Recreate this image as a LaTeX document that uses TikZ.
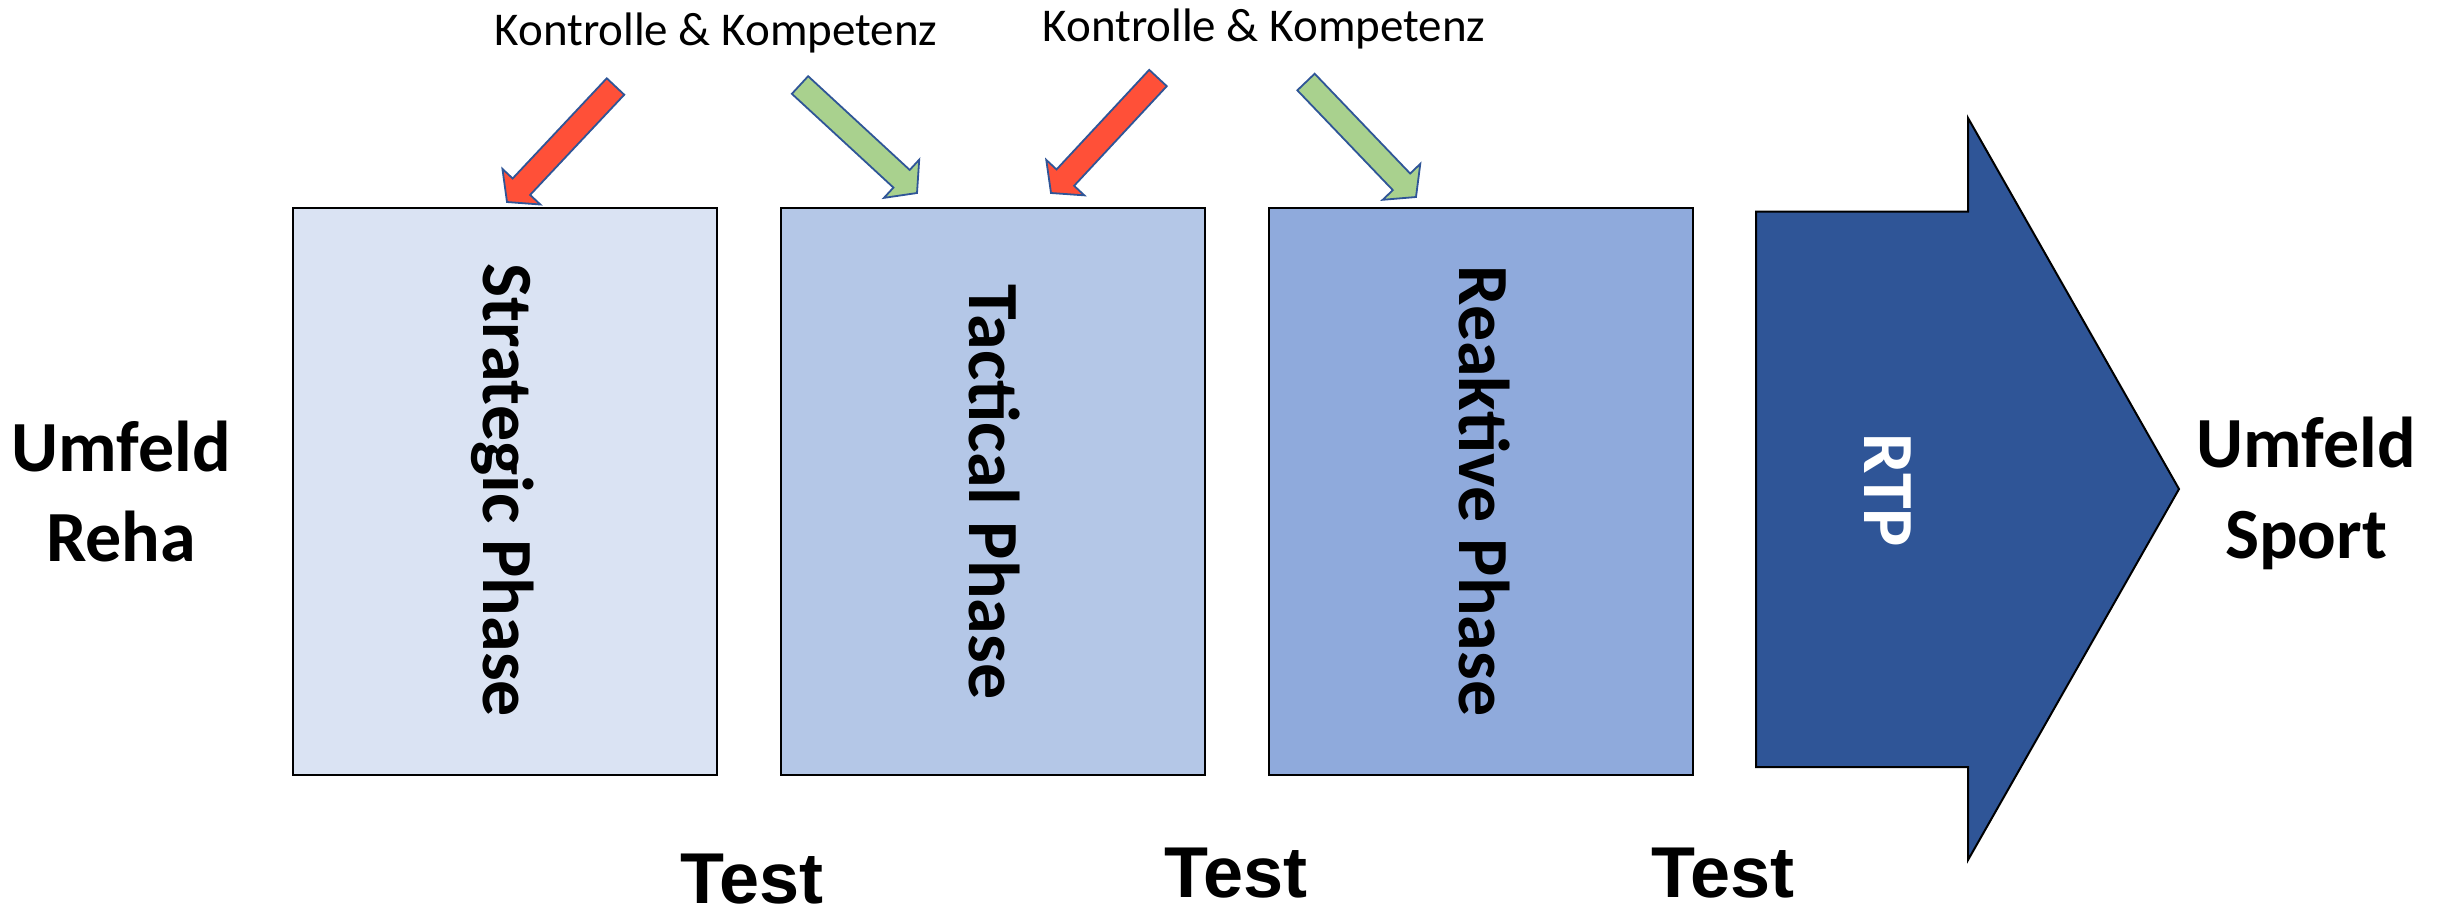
\documentclass[tikz,border=0pt]{standalone}
\usepackage{fontspec}
\setmainfont{Carlito}
\newfontfamily\testfont{Liberation Sans}
\usetikzlibrary{calc}
\definecolor{boxA}{HTML}{DAE3F3}
\definecolor{boxB}{HTML}{B4C7E7}
\definecolor{boxC}{HTML}{8FAADC}
\definecolor{rtpblue}{HTML}{2F5597}
\definecolor{arrline}{HTML}{2F5597}
\definecolor{kred}{HTML}{FF5038}
\definecolor{kgreen}{HTML}{A9D18E}
\tikzset{
  phasebox/.style={draw=black, line width=1.2pt, anchor=north west, minimum width=212pt, minimum height=283.5pt, inner sep=0pt},
  phasetext/.style={rotate=-90, anchor=base, inner sep=0pt, font=\fontsize{36}{43}\selectfont\bfseries},
  bigtext/.style={anchor=base, inner sep=0pt, font=\fontsize{36}{43}\selectfont\bfseries},
  smalltext/.style={anchor=base, inner sep=0pt, font=\fontsize{23.5}{28}\selectfont},
  testtext/.style={anchor=base, inner sep=0pt, font=\fontsize{36}{43}\selectfont\testfont\bfseries},
  kkarrowstyle/.style={draw=arrline, line width=0.9pt, line join=miter},
}
\newcommand{\kkarrow}[6]{%
  \pgfmathsetmacro{\kdx}{#4-#2}%
  \pgfmathsetmacro{\kdy}{#5-#3}%
  \pgfmathsetmacro{\klen}{veclen(\kdx,\kdy)}%
  \pgfmathsetmacro{\kux}{\kdx/\klen}%
  \pgfmathsetmacro{\kuy}{\kdy/\klen}%
  \pgfmathsetmacro{\kbx}{#4-21*\kux}%
  \pgfmathsetmacro{\kby}{#5-21*\kuy}%
  \coordinate (#1-tail) at (#2,#3);
  \coordinate (#1-tip) at (#4,#5);
  \draw[kkarrowstyle, fill=#6]
    ({#2-12*\kuy},{#3+12*\kux}) -- ({\kbx-12*\kuy},{\kby+12*\kux})
    -- ({\kbx-26*\kuy},{\kby+26*\kux}) -- (#1-tip)
    -- ({\kbx+26*\kuy},{\kby-26*\kux}) -- ({\kbx+12*\kuy},{\kby-12*\kux})
    -- ({#2+12*\kuy},{#3-12*\kux}) -- cycle;
}
\begin{document}
\begin{tikzpicture}[x=0.5pt, y=-0.5pt]
\useasboundingbox (0,0) rectangle (2443,912);

% phase boxes
\node[phasebox, fill=boxA] (b1) at (292,207) {};
\node[phasebox, fill=boxB] (b2) at (780,207) {};
\node[phasebox, fill=boxC] (b3) at (1268,207) {};

\node[phasetext] (t1) at (483,490) {Strategic Phase};
\node[phasetext] (t2) at (969,492) {Tactical Phase};
\node[phasetext] (t3) at (1459,491) {Reaktive Phase};

% RTP arrow
\draw[fill=rtpblue, draw=black, line width=1pt, line join=miter]
  (1756,211.5) -- (1968,211.5) -- (1968,118) -- (2179,489) -- (1968,860)
  -- (1968,767) -- (1756,767) -- cycle;
\node[phasetext, text=white] (rtp) at (1864,490) {RTP};

% side labels
\node[bigtext] (umr1) at (121,471) {Umfeld};
\node[bigtext] (umr2) at (121,561) {Reha};
\node[bigtext] (ums1) at (2306,467) {Umfeld};
\node[bigtext] (ums2) at (2306,558) {Sport};

% top labels
\node[smalltext] (kk1) at (716,45) {Kontrolle \& Kompetenz};
\node[smalltext] (kk2) at (1264,41) {Kontrolle \& Kompetenz};

% block arrows
\kkarrow{ra}{615.5}{86.5}{507}{202}{kred}
\kkarrow{ga}{800}{85}{917}{193}{kgreen}
\kkarrow{rb}{1158}{78}{1051}{193}{kred}
\kkarrow{gb}{1306}{82}{1416}{197}{kgreen}

% tests
\node[testtext] (test1) at (752,903) {Test};
\node[testtext] (test2) at (1236,897) {Test};
\node[testtext] (test3) at (1723,897) {Test};
\end{tikzpicture}
\end{document}
